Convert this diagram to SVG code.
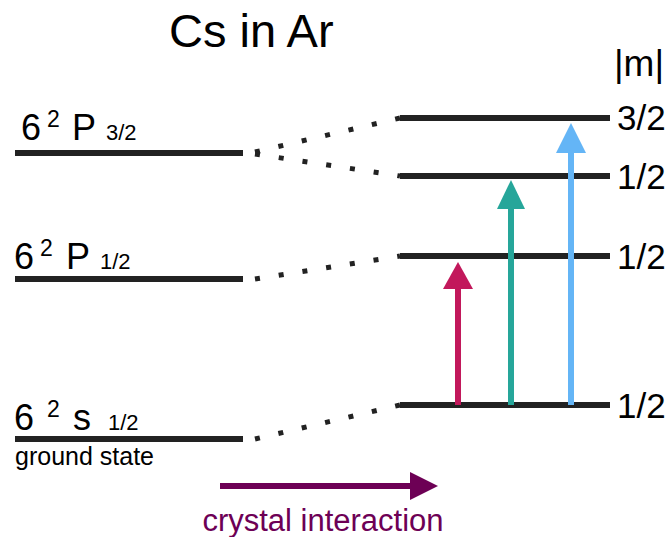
<svg xmlns="http://www.w3.org/2000/svg" width="670" height="537" viewBox="0 0 670 537">
<style>
text{font-family:"Liberation Sans",Arial,sans-serif;fill:#000}
.lvl{stroke:#222;stroke-width:6;fill:none}
.dot{stroke:#222;stroke-width:5;stroke-dasharray:5 19;fill:none}
.big{font-size:36px}
.sup{font-size:23px}
.sub{font-size:22px}
.m{font-size:35px}
</style>
<rect width="670" height="537" fill="#fff"/>
<text x="169" y="47" font-size="47">Cs in Ar</text>
<text x="614" y="76" font-size="37">|m|</text>
<g id="level-P32"><line class="lvl" x1="15" y1="153" x2="243" y2="153"/>
<text class="big" x="21" y="140">6</text><text class="sup" x="47" y="127">2</text><text class="big" x="72" y="140">P</text><text class="sub" x="106" y="140">3/2</text></g>
<g id="level-P12"><line class="lvl" x1="15" y1="279" x2="243" y2="279"/>
<text class="big" x="14" y="269">6</text><text class="sup" x="40" y="256">2</text><text class="big" x="66" y="269">P</text><text class="sub" x="100" y="269">1/2</text></g>
<g id="level-S12"><line class="lvl" x1="15" y1="439" x2="243" y2="439"/>
<text class="big" x="14" y="430">6</text><text class="sup" x="47" y="417">2</text><text class="big" x="73" y="430">s</text><text class="sub" x="108" y="430">1/2</text>
<text x="15" y="465" font-size="25">ground state</text></g>
<g id="split-1"><line class="lvl" x1="400" y1="118" x2="610" y2="118"/><text class="m" x="617" y="130">3/2</text></g>
<g id="split-2"><line class="lvl" x1="400" y1="176" x2="610" y2="176"/><text class="m" x="617" y="189">1/2</text></g>
<g id="split-3"><line class="lvl" x1="400" y1="256" x2="610" y2="256"/><text class="m" x="617" y="269">1/2</text></g>
<g id="split-4"><line class="lvl" x1="400" y1="405" x2="610" y2="405"/><text class="m" x="617" y="418">1/2</text></g>
<g id="connectors">
<line class="dot" x1="255" y1="152" x2="400" y2="118"/>
<line class="dot" x1="255" y1="154" x2="400" y2="176"/>
<line class="dot" x1="255" y1="279" x2="400" y2="256"/>
<line class="dot" x1="255" y1="439" x2="400" y2="405"/>
<line x1="458" y1="405" x2="458" y2="287" stroke="#C2185B" stroke-width="6"/>
<polygon points="458,262 473,289 443,289" fill="#C2185B"/>
<line x1="511" y1="405" x2="511" y2="207" stroke="#26A69A" stroke-width="6"/>
<polygon points="511,180 525,209 497,209" fill="#26A69A"/>
<line x1="571" y1="405" x2="571" y2="151" stroke="#64B5F6" stroke-width="6"/>
<polygon points="571,123 586,153 556,153" fill="#64B5F6"/>
<line x1="220" y1="486" x2="412" y2="486" stroke="#6D0055" stroke-width="6"/>
<polygon points="438,486 410,472 410,500" fill="#6D0055"/>
</g>
<text x="323" y="531" font-size="31" text-anchor="middle" style="fill:#6D0055">crystal interaction</text>
</svg>
